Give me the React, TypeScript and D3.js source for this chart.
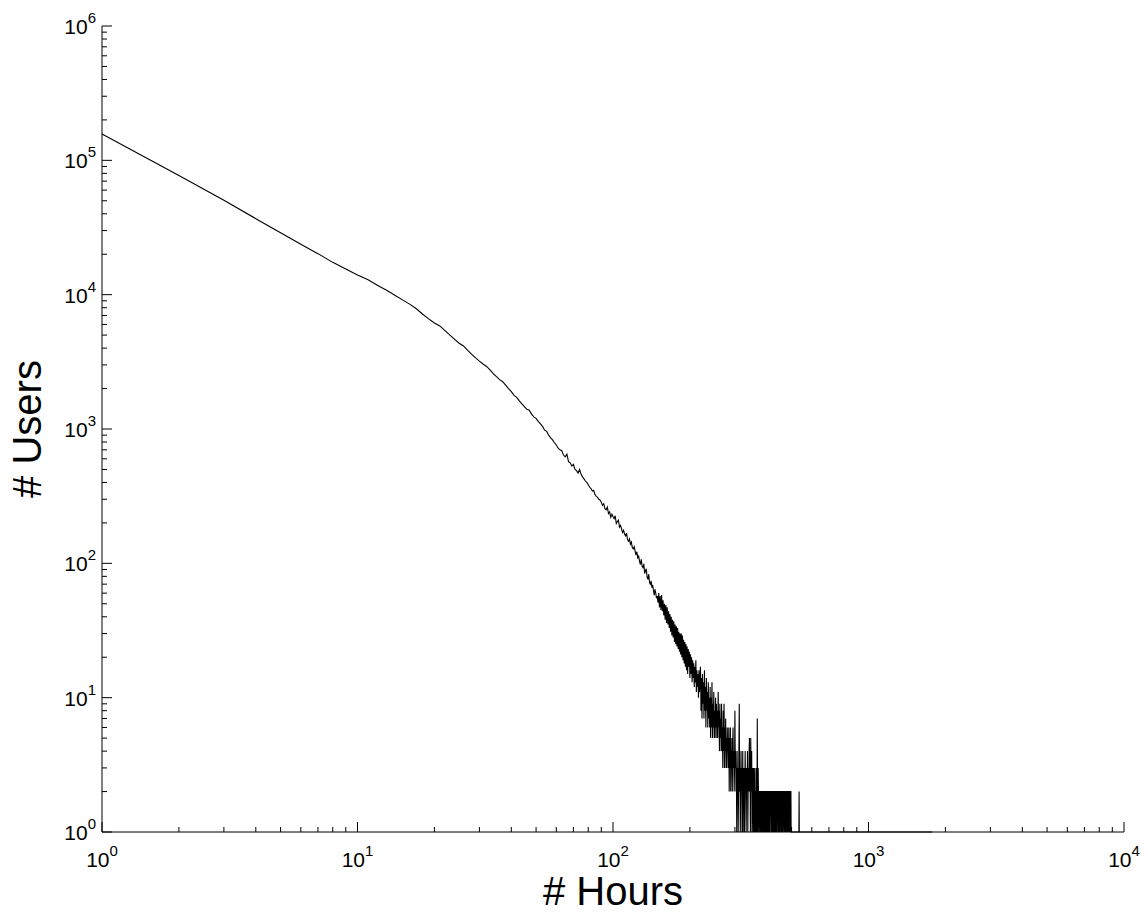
import React from 'react';
import * as d3 from 'd3';

// users per hour count, hour = index + 1 (hours 1..540)
const usersByHour: number[] = [
  157000, 77000, 50500, 36800, 28900, 23700, 20200, 17400, 15500, 14000,
  12900, 11700, 10800, 9900, 9150, 8500, 7850, 7150, 6600, 6150,
  5850, 5400, 5000, 4650, 4350, 4150, 3850, 3600, 3380, 3200,
  3050, 2920, 2750, 2580, 2450, 2330, 2250, 2120, 2000, 1900,
  1780, 1720, 1620, 1540, 1470, 1400, 1380, 1290, 1230, 1200,
  1140, 1090, 1045, 980, 960, 900, 860, 830, 790, 760,
  720, 700, 690, 640, 620, 650, 570, 560, 530, 545,
  500, 490, 470, 500, 460, 440, 425, 410, 400, 385,
  370, 360, 345, 350, 325, 315, 310, 300, 296, 285,
  270, 278, 255, 250, 262, 235, 242, 220, 232, 223,
  215, 226, 198, 205, 210, 186, 192, 181, 170, 176,
  165, 160, 168, 150, 146, 152, 139, 144, 131, 128,
  133, 124, 115, 122, 110, 113, 104, 98, 107, 95,
  93, 99, 84, 88, 91, 79, 76, 83, 72, 70,
  74, 66, 69, 63, 58, 64, 60, 55, 57, 51,
  60, 47, 57, 45, 58, 44, 53, 41, 50, 38,
  49, 36, 47, 35, 44, 33, 42, 31, 40, 29,
  38, 28, 37, 26, 35, 25, 34, 24, 33, 23,
  31, 22, 30, 21, 30, 20, 29, 19, 27, 18,
  26, 17, 25, 16, 24, 15, 23, 17, 22, 14,
  21, 15, 20, 13, 19, 14, 18, 12, 17, 13,
  19, 11, 16, 12, 15, 10, 16, 11, 14, 17,
  8, 14, 7, 15, 9, 13, 7, 16, 8, 12,
  6, 14, 8, 11, 6, 13, 7, 10, 6, 12,
  5, 10, 6, 13, 5, 9, 6, 11, 5, 8,
  5, 10, 6, 9, 5, 8, 5, 11, 6, 8,
  4, 9, 5, 7, 4, 9, 4, 6, 3, 8,
  4, 9, 3, 6, 4, 7, 3, 5, 3, 6,
  4, 5, 3, 6, 2, 5, 3, 6, 2, 4,
  3, 5, 2, 4, 6, 3, 4, 2, 3, 8,
  3, 4, 2, 3, 1, 4, 2, 3, 1, 2,
  4, 9, 2, 3, 1, 2, 4, 2, 3, 1,
  2, 4, 1, 3, 2, 3, 1, 2, 4, 2,
  3, 1, 2, 3, 2, 4, 1, 2, 3, 2,
  4, 5, 2, 3, 1, 5, 3, 2, 4, 1,
  2, 3, 2, 1, 3, 2, 1, 2, 3, 1,
  2, 2, 1, 3, 2, 1, 7, 2, 1, 3,
  2, 2, 1, 2, 2, 2, 1, 2, 1, 2,
  2, 2, 1, 2, 2, 1, 2, 2, 2, 1,
  2, 1, 2, 2, 2, 1, 2, 2, 1, 2,
  2, 2, 1, 2, 1, 2, 2, 2, 1, 2,
  2, 1, 2, 2, 2, 2, 1, 2, 2, 1,
  2, 2, 2, 1, 2, 2, 1, 2, 2, 2,
  1, 2, 2, 2, 1, 2, 2, 1, 2, 2,
  2, 2, 1, 2, 2, 2, 1, 2, 2, 1,
  2, 2, 2, 2, 1, 2, 2, 2, 1, 2,
  2, 1, 2, 2, 2, 2, 1, 2, 2, 2,
  1, 2, 2, 2, 1, 2, 2, 2, 2, 1,
  2, 2, 1, 2, 2, 2, 2, 1, 2, 2,
  2, 1, 2, 2, 1, 2, 2, 1, 1, 1,
  1, 1, 1, 1, 1, 1, 1, 1, 1, 1,
  1, 1, 1, 1, 1, 1, 1, 1, 1, 1,
  1, 1, 1, 1, 1, 1, 1, 1, 1, 1,
  1, 1, 1, 1, 2, 1, 1, 1, 1, 1,
];

// sparse tail: single users at long durations
const tailHours = [560, 590, 640, 700, 780, 870, 990, 1130, 1300, 1520, 1780];
const tailUsers = [1, 1, 1, 1, 1, 1, 1, 1, 1, 1, 1];

const xDomain: [number, number] = [1, 1e4];
const yDomain: [number, number] = [1, 1e6];

const FONT = "'Liberation Sans', Arial, Helvetica, sans-serif";

export default function App() {
  const width = 1148;
  const height = 913;
  const margin = { top: 26, right: 24, bottom: 81, left: 102 };

  const x = d3.scaleLog().domain(xDomain).range([margin.left, width - margin.right]);
  const y = d3.scaleLog().domain(yDomain).range([height - margin.bottom, margin.top]);

  const points = usersByHour
    .map((v, i) => ({ h: i + 1, v }))
    .concat(tailHours.map((h, i) => ({ h, v: tailUsers[i] })))
    .filter((d) => d.v > 0);

  const line = d3
    .line<{ h: number; v: number }>()
    .x((d) => x(d.h))
    .y((d) => y(d.v));

  const isMajor = (t: number) => Math.abs(Math.log10(t) - Math.round(Math.log10(t))) < 1e-9;
  const x0 = x.range()[0];
  const y0 = y.range()[0];

  const xTicks = x.ticks();
  const yTicks = y.ticks();

  return (
    <svg width={width} height={height} style={{ position: 'absolute', left: 0, top: 0, background: '#fff' }}>
      <rect width={width} height={height} fill="#fff" />

      {/* data curve */}
      <path d={line(points) || ''} fill="none" stroke="#000" strokeWidth={1.1} strokeLinejoin="miter" />

      {/* axes */}
      <line x1={x0} x2={x.range()[1]} y1={y0} y2={y0} stroke="#000" strokeWidth={1} />
      <line x1={x0} x2={x0} y1={y0} y2={y.range()[1]} stroke="#000" strokeWidth={1} />

      {xTicks.map((t, i) => (
        <line key={'xt' + i} x1={x(t)} x2={x(t)} y1={y0} y2={y0 - (isMajor(t) ? 10 : 5)} stroke="#000" strokeWidth={1} />
      ))}
      {yTicks.map((t, i) => (
        <line key={'yt' + i} x1={x0} x2={x0 + (isMajor(t) ? 10 : 5)} y1={y(t)} y2={y(t)} stroke="#000" strokeWidth={1} />
      ))}

      {/* tick labels */}
      {xTicks.filter(isMajor).map((t, i) => (
        <text key={'xl' + i} x={x(t)} y={y0 + 35} textAnchor="middle" fontFamily={FONT} fontSize={21} fill="#000">
          10<tspan fontSize={15} dy={-11}>{Math.round(Math.log10(t))}</tspan>
        </text>
      ))}
      {yTicks.filter(isMajor).map((t, i) => (
        <text key={'yl' + i} x={x0 - 6} y={y(t) + 8} textAnchor="end" fontFamily={FONT} fontSize={21} fill="#000">
          10<tspan fontSize={15} dy={-11}>{Math.round(Math.log10(t))}</tspan>
        </text>
      ))}

      {/* axis titles */}
      <text x={(x.range()[0] + x.range()[1]) / 2} y={905} textAnchor="middle" fontFamily={FONT} fontSize={40} fill="#000">
        # Hours
      </text>
      <text
        transform={`translate(41,${(y.range()[0] + y.range()[1]) / 2}) rotate(-90)`}
        textAnchor="middle"
        fontFamily={FONT}
        fontSize={40}
        fill="#000"
      >
        # Users
      </text>
    </svg>
  );
}
